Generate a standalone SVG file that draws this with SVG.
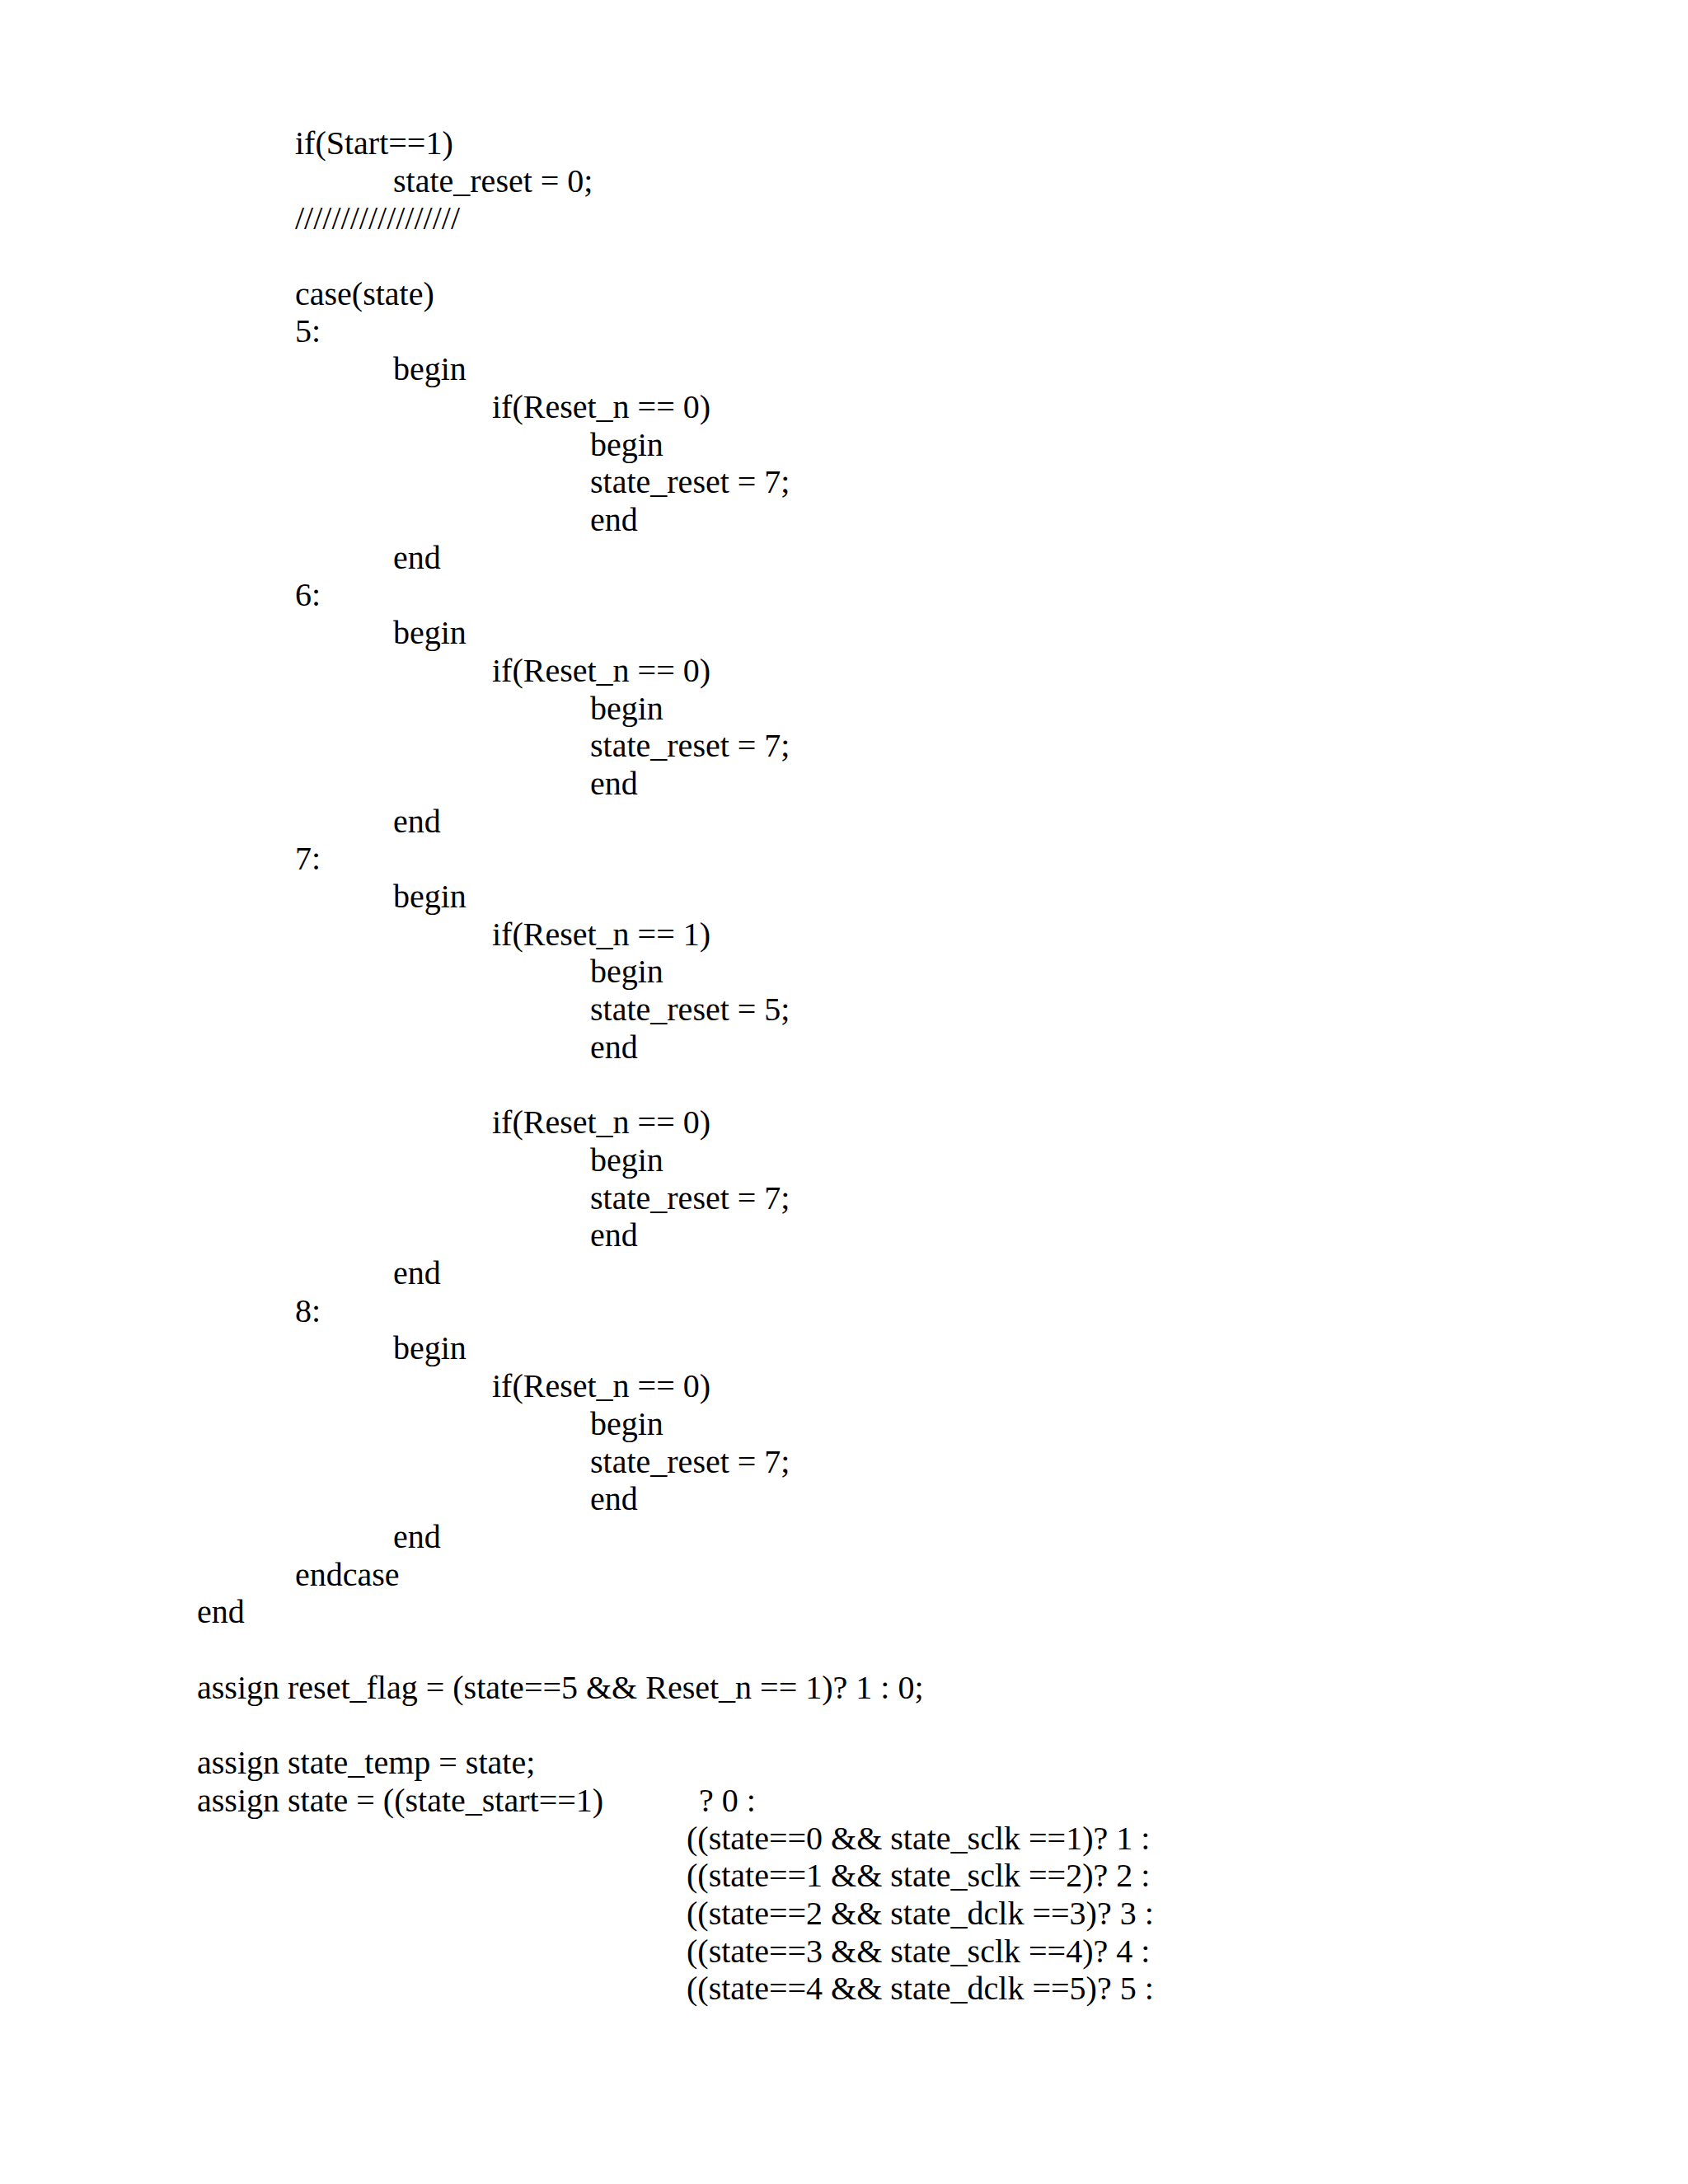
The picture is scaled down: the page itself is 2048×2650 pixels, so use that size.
<svg xmlns="http://www.w3.org/2000/svg" width="2048" height="2650" viewBox="0 0 2048 2650">
<style>text{font-family:"Liberation Serif","Times New Roman",serif;font-size:40px;fill:#000}</style>
<rect width="2048" height="2650" fill="#fff"/>
<g id="code">
<text x="358" y="187">if(Start==1)</text>
<text x="477" y="233">state_reset = 0;</text>
<text x="358" y="278">//////////////////</text>
<text x="358" y="370">case(state)</text>
<text x="358" y="415">5:</text>
<text x="477" y="461">begin</text>
<text x="597" y="507">if(Reset_n == 0)</text>
<text x="716" y="553">begin</text>
<text x="716" y="598">state_reset = 7;</text>
<text x="716" y="644">end</text>
<text x="477" y="690">end</text>
<text x="358" y="735">6:</text>
<text x="477" y="781">begin</text>
<text x="597" y="827">if(Reset_n == 0)</text>
<text x="716" y="873">begin</text>
<text x="716" y="918">state_reset = 7;</text>
<text x="716" y="964">end</text>
<text x="477" y="1010">end</text>
<text x="358" y="1055">7:</text>
<text x="477" y="1101">begin</text>
<text x="597" y="1147">if(Reset_n == 1)</text>
<text x="716" y="1192">begin</text>
<text x="716" y="1238">state_reset = 5;</text>
<text x="716" y="1284">end</text>
<text x="597" y="1375">if(Reset_n == 0)</text>
<text x="716" y="1421">begin</text>
<text x="716" y="1467">state_reset = 7;</text>
<text x="716" y="1512">end</text>
<text x="477" y="1558">end</text>
<text x="358" y="1604">8:</text>
<text x="477" y="1649">begin</text>
<text x="597" y="1695">if(Reset_n == 0)</text>
<text x="716" y="1741">begin</text>
<text x="716" y="1787">state_reset = 7;</text>
<text x="716" y="1832">end</text>
<text x="477" y="1878">end</text>
<text x="358" y="1924">endcase</text>
<text x="239" y="1969">end</text>
<text x="239" y="2061">assign reset_flag = (state==5 &amp;&amp; Reset_n == 1)? 1 : 0;</text>
<text x="239" y="2152">assign state_temp = state;</text>
<text x="239" y="2198">assign state = ((state_start==1)</text>
<text x="848" y="2198">? 0 :</text>
<text x="833" y="2244">((state==0 &amp;&amp; state_sclk ==1)? 1 :</text>
<text x="833" y="2289">((state==1 &amp;&amp; state_sclk ==2)? 2 :</text>
<text x="833" y="2335">((state==2 &amp;&amp; state_dclk ==3)? 3 :</text>
<text x="833" y="2381">((state==3 &amp;&amp; state_sclk ==4)? 4 :</text>
<text x="833" y="2426">((state==4 &amp;&amp; state_dclk ==5)? 5 :</text>
</g>
</svg>
